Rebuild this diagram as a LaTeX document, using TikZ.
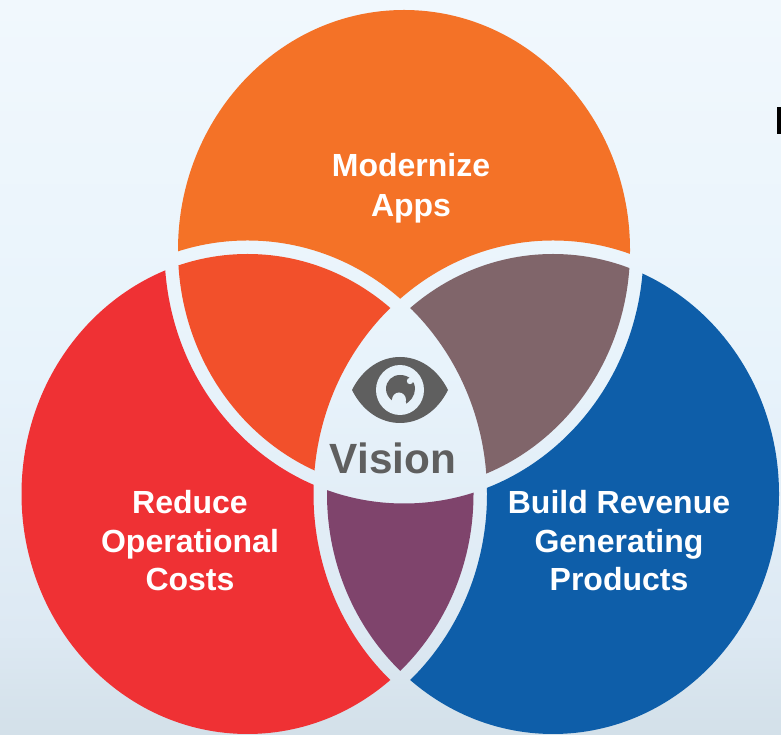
\documentclass[tikz,border=0pt]{standalone}
\usepackage{fontspec}
\setmainfont{Liberation Sans}
\definecolor{cOrange}{HTML}{F47227}
\definecolor{cRed}{HTML}{EF3134}
\definecolor{cBlue}{HTML}{0E5EA9}
\definecolor{cRedOrange}{HTML}{F2502B}
\definecolor{cBrown}{HTML}{80656A}
\definecolor{cPurple}{HTML}{7F446C}
\definecolor{cGrey}{HTML}{5F5F5F}
\definecolor{bgEye}{HTML}{E6F1F9}
\definecolor{bgA}{HTML}{D3E0E9}
\definecolor{bgB}{HTML}{DDE9F3}
\definecolor{bgC}{HTML}{E8F3FB}
\definecolor{bgD}{HTML}{F1F8FD}
\pgfdeclareverticalshading{pagebg}{100bp}{
  color(0bp)=(bgA);
  color(25bp)=(bgA);
  color(32bp)=(bgB);
  color(50bp)=(bgC);
  color(75bp)=(bgD);
  color(100bp)=(bgD)}
% ellipse centres: T (404,485), L (247.5,241), R (553,241); gap 13.5
\newcommand\clipin[2]{\clip (#1,#2) ellipse [x radius=226pt,y radius=240pt];}
\newcommand\clipout[2]{\clip (#1,#2) ellipse [x radius=239.5pt,y radius=253.5pt] (0,0)--(0,735)--(781,735)--(781,0)--cycle;}
\tikzset{
  region/.style={fill=#1},
  label text/.style={text=white,font=\bfseries\fontsize{32}{38.5}\selectfont,align=center,inner sep=0pt},
  top text/.style={label text,font=\bfseries\fontsize{32}{40}\selectfont},
  vision text/.style={text=cGrey,font=\bfseries\fontsize{42.3}{46}\selectfont,inner sep=0pt},
}
\begin{document}
\begin{tikzpicture}[x=1pt,y=1pt]
\useasboundingbox (0,0) rectangle (781,735);
\path[shading=pagebg] (0,0) rectangle (781,735);
% orange
\begin{scope}\clipin{404}{485}\clipout{247.5}{241}\clipout{553}{241}
\fill[region=cOrange] (0,0) rectangle (781,735);\end{scope}
% red
\begin{scope}\clipin{247.5}{241}\clipout{404}{485}\clipout{553}{241}
\fill[region=cRed] (0,0) rectangle (781,735);\end{scope}
% blue
\begin{scope}\clipin{553}{241}\clipout{404}{485}\clipout{247.5}{241}
\fill[region=cBlue] (0,0) rectangle (781,735);\end{scope}
% top-left overlap
\begin{scope}\clipin{404}{485}\clipin{247.5}{241}\clipout{553}{241}
\fill[region=cRedOrange] (0,0) rectangle (781,735);\end{scope}
% top-right overlap
\begin{scope}\clipin{404}{485}\clipin{553}{241}\clipout{247.5}{241}
\fill[region=cBrown] (0,0) rectangle (781,735);\end{scope}
% bottom overlap
\begin{scope}\clipin{247.5}{241}\clipin{553}{241}\clipout{404}{485}
\fill[region=cPurple] (0,0) rectangle (781,735);\end{scope}
% eye
\fill[cGrey] (352,345) .. controls (374,389) and (426,389) .. (448,345)
  .. controls (426,301) and (374,301) .. (352,345) -- cycle;
\fill[bgEye] (400,345) ellipse [x radius=24pt,y radius=25pt];
\fill[cGrey] (394,333) .. controls (388,337) and (386,342) .. (386,346) .. controls (386,354) and (392,360) .. (400,360)
  .. controls (409,360) and (415,354) .. (415,346) .. controls (415,339) and (410,333) .. (404,330) -- cycle;
\fill[bgEye] (399,335) ellipse [x radius=7pt,y radius=7.5pt];
\fill[bgEye] (399,327) rectangle (406,333);
\fill[bgEye] (410,354) circle [radius=3.2pt];
% stray clipped glyph at right edge
\fill[black] (777,601) rectangle (781,628);
% labels
\node[top text] (modernize) at (411,547) {Modernize\\Apps};
\node[label text] (reduce) at (190,194) {Reduce\\Operational\\Costs};
\node[label text] (build) at (619,194) {Build Revenue\\Generating\\Products};
\node[vision text] (vision) at (393,277) {Vision};
\end{tikzpicture}
\end{document}
